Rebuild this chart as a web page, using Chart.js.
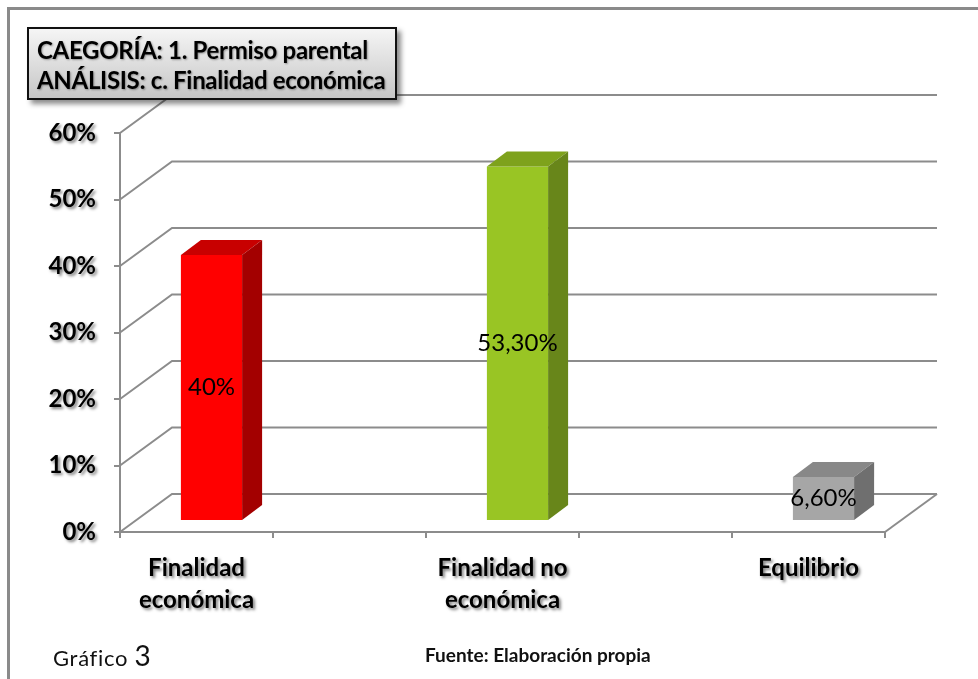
<!DOCTYPE html>
<html lang="es">
<head>
<meta charset="utf-8">
<title>Gráfico 3</title>
<script src="https://cdn.jsdelivr.net/npm/chart.js"></script>
<style>
  html, body { margin: 0; padding: 0; background: #fff; overflow: hidden; }
  #wrap { position: relative; width: 978px; height: 679px; }
  #marco { position: absolute; left: 7px; top: 7px; width: 1000px; height: 700px;
           border-left: 3px solid #8a8a8a; border-top: 3px solid #8a8a8a; }
  #titulo { position: absolute; left: 27px; top: 27px; width: 358px; height: 63px;
            padding: 6px 0 0 8px; border: 2px solid #111;
            background: linear-gradient(#f5f5f5, #c6c6c6);
            box-shadow: 4px 4px 5px rgba(0,0,0,0.45);
            font: bold 24px Lato, sans-serif; letter-spacing: -0.3px; line-height: 30px; color: #000;
            text-shadow: 1px 1px 2px rgba(0,0,0,0.35); white-space: nowrap; }
  #grafico { position: absolute; left: 53px; top: 638px; font: 22px Lato, sans-serif;
             letter-spacing: 0.7px; color: #111; }
  #grafico span { font-size: 28px; }
  #fuente { position: absolute; left: 425px; top: 643px; font: bold 19px Lato, sans-serif;
            color: #111; }
  canvas { position: absolute; left: 0; top: 0; }
</style>
</head>
<body>
<div id="wrap">
  <div id="marco"></div>
  <canvas id="chart" width="978" height="679"></canvas>
  <div id="titulo">CAEGORÍA: 1. Permiso parental<br>ANÁLISIS: c. Finalidad económica</div>
  <div id="grafico">Gráfico <span>3</span></div>
  <div id="fuente">Fuente: Elaboración propia</div>
</div>
<script>
// Datos (las columnas vacías separan las categorías)
const categorias = [["Finalidad", "económica"], "", ["Finalidad no", "económica"], "", "Equilibrio"];
const valores = [40, null, 53.3, null, 6.6];
const etiquetasValor = ["40%", "", "53,30%", "", "6,60%"];
const colorFrente = ["#ff0000", null, "#99c524", null, "#a6a6a6"];
const colorTapa = ["#c80000", null, "#7ea21c", null, "#888888"];
const colorLado = ["#a30000", null, "#68861a", null, "#6f6f6f"];

const gris = "#8c8c8c";
const fondo = { dx: 52, dy: -38 };   // profundidad del suelo / pared
const barra = { dx: 15, dy: -11 };   // desplazamiento de la cara frontal
const lado = { dx: 20, dy: -15 };    // grosor de cada barra

// Dibuja la pared del fondo, las caras 3D y los valores
const efecto3D = {
  id: "efecto3D",
  beforeDraw(chart) {
    // sombra en los rótulos de los ejes
    Object.values(chart.scales).forEach((s) => {
      if (s._conSombra) return;
      const original = s.drawLabels.bind(s);
      s.drawLabels = function (area) {
        const ctx = chart.ctx;
        ctx.save();
        ctx.shadowColor = "rgba(0,0,0,0.5)";
        ctx.shadowOffsetX = 2;
        ctx.shadowOffsetY = 2;
        ctx.shadowBlur = 3;
        original(area);
        ctx.restore();
      };
      s._conSombra = true;
    });
  },
  beforeDatasetsDraw(chart) {
    const ctx = chart.ctx;
    const y = chart.scales.y;
    const a = chart.chartArea;
    ctx.save();
    ctx.strokeStyle = gris;
    ctx.lineWidth = 2;
    y.ticks.forEach((t) => {
      const py = y.getPixelForValue(t.value);
      ctx.beginPath();
      ctx.moveTo(a.left, py);
      ctx.lineTo(a.left + fondo.dx, py + fondo.dy);
      ctx.lineTo(a.right + fondo.dx, py + fondo.dy);
      ctx.stroke();
    });
    ctx.beginPath();
    ctx.moveTo(a.right, a.bottom);
    ctx.lineTo(a.right + fondo.dx, a.bottom + fondo.dy);
    ctx.stroke();
    ctx.restore();

    ctx.save();
    ctx.translate(barra.dx, barra.dy);
  },
  afterDatasetsDraw(chart) {
    const ctx = chart.ctx;
    const meta = chart.getDatasetMeta(0);
    meta.data.forEach((el, i) => {
      if (valores[i] == null) return;
      const izq = el.x - el.width / 2;
      const der = el.x + el.width / 2;
      ctx.fillStyle = colorTapa[i];
      ctx.beginPath();
      ctx.moveTo(izq, el.y);
      ctx.lineTo(izq + lado.dx, el.y + lado.dy);
      ctx.lineTo(der + lado.dx, el.y + lado.dy);
      ctx.lineTo(der, el.y);
      ctx.closePath();
      ctx.fill();
      ctx.fillStyle = colorLado[i];
      ctx.beginPath();
      ctx.moveTo(der, el.y);
      ctx.lineTo(der + lado.dx, el.y + lado.dy);
      ctx.lineTo(der + lado.dx, el.base + lado.dy);
      ctx.lineTo(der, el.base);
      ctx.closePath();
      ctx.fill();
    });
    ctx.restore();

    ctx.save();
    ctx.fillStyle = "#000";
    ctx.font = "24px Lato";
    ctx.textAlign = "center";
    ctx.textBaseline = "middle";
    meta.data.forEach((el, i) => {
      if (!etiquetasValor[i]) return;
      ctx.fillText(etiquetasValor[i], el.x + barra.dx, (el.y + el.base) / 2 + barra.dy);
    });
    ctx.restore();
  },
};

new Chart(document.getElementById("chart"), {
  type: "bar",
  data: {
    labels: categorias,
    datasets: [
      {
        data: valores,
        backgroundColor: colorFrente,
        borderWidth: 0,
        categoryPercentage: 1,
        barPercentage: 0.4,
      },
    ],
  },
  options: {
    responsive: false,
    animation: false,
    events: [],
    layout: { padding: { top: 133, right: 93, bottom: 0, left: 0 } },
    plugins: { legend: { display: false }, tooltip: { enabled: false } },
    scales: {
      x: {
        afterFit: (s) => { s.height = 147; },
        grid: { offset: true, drawOnChartArea: false, color: gris, lineWidth: 2, tickLength: 6 },
        border: { color: gris, width: 2 },
        ticks: {
          color: "#000",
          font: { family: "Lato", weight: "bold", size: 24, lineHeight: 1.3 },
          padding: 15,
          maxRotation: 0,
          autoSkip: false,
        },
      },
      y: {
        min: 0,
        max: 60,
        afterFit: (s) => { s.width = 120; },
        grid: { drawOnChartArea: false, color: gris, lineWidth: 2, tickLength: 6 },
        border: { color: gris, width: 2 },
        ticks: {
          stepSize: 10,
          color: "#000",
          font: { family: "Lato", weight: "bold", size: 24 },
          padding: 18,
          callback: (v) => v + "%",
        },
      },
    },
  },
  plugins: [efecto3D],
});
</script>
</body>
</html>
